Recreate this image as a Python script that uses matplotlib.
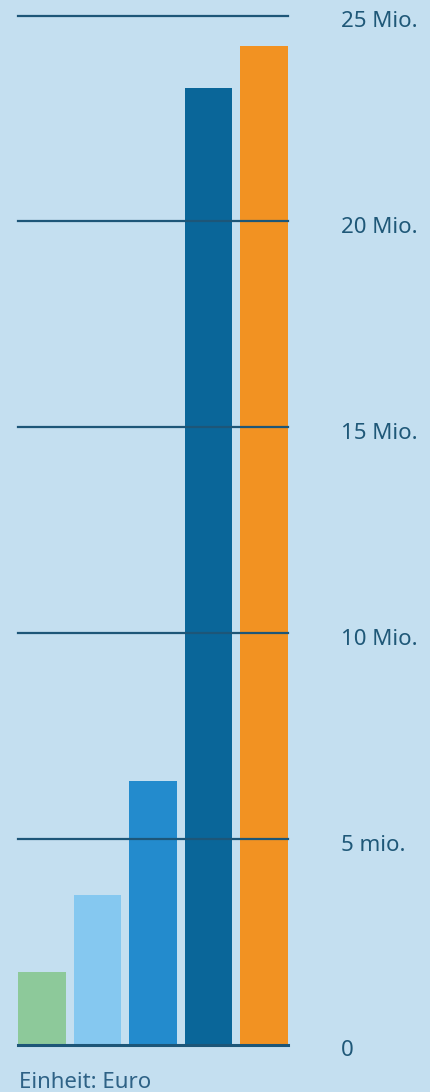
import matplotlib
matplotlib.use("Agg")
import matplotlib.pyplot as plt

values = [1.77, 3.64, 6.41, 23.23, 24.27]  # in Mio. Euro
colors = ["#8dc99a", "#85c8f0", "#238bcd", "#0a6699", "#f29222"]
tick_values = [0, 5, 10, 15, 20, 25]
tick_labels = ["0", "5 mio.", "10 Mio.", "15 Mio.", "20 Mio.", "25 Mio."]
unit_label = "Einheit: Euro"

bg = "#c4dff0"
line_col = "#1d5678"
text_col = "#1f5878"

W, H = 430, 1092
fig = plt.figure(figsize=(W / 100, H / 100), dpi=100, facecolor=bg)
left, right, bottom, top = 18, 288, 1045, 15.5
ax = fig.add_axes([left / W, (H - bottom) / H, (right - left) / W, (bottom - top) / H])
ax.set_facecolor(bg)

w = 0.86
x = list(range(len(values)))
ax.set_xlim(-w / 2, len(values) - 1 + w / 2)
ax.set_ylim(0, 25)

ax.bar(x, values, width=w, color=colors, zorder=2)
for t in tick_values[1:]:
    ax.axhline(t, color=line_col, lw=1.6, zorder=3, clip_on=False)
ax.axhline(0, color=line_col, lw=2.2, zorder=3, clip_on=False)

for s in ax.spines.values():
    s.set_visible(False)
ax.set_xticks([])
ax.set_yticks([])

for t, lab in zip(tick_values, tick_labels):
    ax.annotate(lab, xy=(1, t), xycoords=("axes fraction", "data"),
                xytext=(53, -6), textcoords="offset pixels",
                ha="left", va="center", fontsize=16, color=text_col,
                family="Noto Sans", annotation_clip=False)

fig.text(19 / W, 1 - 1083 / H, unit_label, ha="left", va="center",
         fontsize=16, color="#2e6286", family="Noto Sans")

fig.savefig("out.png", dpi=100, facecolor=bg)
